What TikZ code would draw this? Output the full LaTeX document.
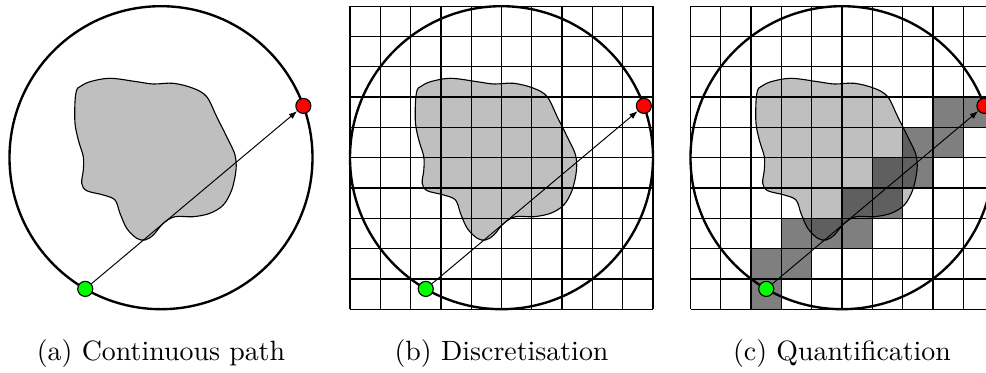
\documentclass[tikz,border=0pt]{standalone}
\usetikzlibrary{arrows.meta}
\tikzset{
  ring/.style={line width=0.85pt},
  gridln/.style={line width=0.45pt},
  blobfill/.style={fill=black!25, draw=black, line width=0.4pt},
  dot/.style={circle, draw=black, line width=0.4pt, minimum size=5.4pt, inner sep=0pt},
  startdot/.style={dot, fill=green},
  enddot/.style={dot, fill=red},
  patharrow/.style={-{Latex[length=3pt,width=2.2pt]}, line width=0.35pt},
  darkcell/.style={fill=black, fill opacity=0.5},
  captionlbl/.style={anchor=base, inner sep=0pt}
}
\newcommand\blobshape{plot[smooth cycle, tension=0.55] coordinates {
 (76.7,90) (75,101.7) (75,123.3) (78.3,140) (83.3,156.7) (83.3,170) (81.7,183.3)
 (86.7,190.7) (103.3,195) (115,200) (120,213.3) (126.7,228.3) (136.7,238.3)
 (145,240) (153.3,235) (163.3,223.3) (175,216.7) (193.3,216.7) (210,213.3)
 (223.3,205) (231.7,190) (236,170) (235,155) (228.3,140) (216.7,116.7)
 (206.7,96.7) (193.3,88.3) (173.3,83.3) (153.3,84) (136.7,81.7) (110,78.3)
 (90,81.7) (80,86.7)}}
\newcommand\gridlines{%
  \foreach \k in {0,...,10}{
    \draw[gridln] ({9.5+\k*30.3},6.2) -- ({9.5+\k*30.3},309.2);
    \draw[gridln] (9.5,{6.2+\k*30.3}) -- (312.5,{6.2+\k*30.3});
  }}
\begin{document}
\begin{tikzpicture}[x=0.3584pt, y=-0.3584pt]
\useasboundingbox (0,0) rectangle (986,373);
% ---------- panel (a)
\begin{scope}
  \draw[blobfill] \blobshape;
  \draw[ring] (161,157.7) circle (151.5);
  \node[startdot] (ga) at ({161+151.5*cos(240)},{157.7-151.5*sin(240)}) {};
  \node[enddot] (ra) at ({161+151.5*cos(20)},{157.7-151.5*sin(20)}) {};
  \draw[patharrow] (ga) -- (ra);
  \node[captionlbl] (capa) at (161,361) {(a) Continuous path};
\end{scope}
% ---------- panel (b)
\begin{scope}[shift={(340.5,0)}]
  \draw[blobfill] \blobshape;
  \gridlines
  \draw[ring] (161,157.7) circle (151.5);
  \node[startdot] (gb) at ({161+151.5*cos(240)},{157.7-151.5*sin(240)}) {};
  \node[enddot] (rb) at ({161+151.5*cos(20)},{157.7-151.5*sin(20)}) {};
  \draw[patharrow] (gb) -- (rb);
  \node[captionlbl] (capb) at (161,361) {(b) Discretisation};
\end{scope}
% ---------- panel (c)
\begin{scope}[shift={(681,0)}]
  \draw[blobfill] \blobshape;
  \foreach \i/\j in {8/3,9/3,7/4,8/4,6/5,7/5,5/6,6/6,3/7,4/7,5/7,2/8,3/8,2/9}{
    \fill[darkcell] ({9.5+\i*30.3},{6.2+\j*30.3}) rectangle ++(30.3,30.3);
  }
  \gridlines
  \draw[ring] (161,157.7) circle (151.5);
  \node[startdot] (gc) at ({161+151.5*cos(240)},{157.7-151.5*sin(240)}) {};
  \node[enddot] (rc) at ({161+151.5*cos(20)},{157.7-151.5*sin(20)}) {};
  \draw[patharrow] (gc) -- (rc);
  \node[captionlbl] (capc) at (161,361) {(c) Quantification};
\end{scope}
\end{tikzpicture}
\end{document}
